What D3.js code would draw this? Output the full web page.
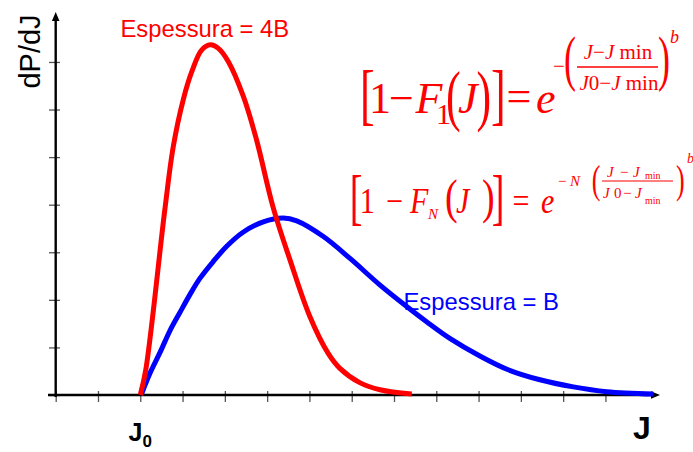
<!DOCTYPE html>
<html>
<head>
<meta charset="utf-8">
<script src="https://cdn.jsdelivr.net/npm/d3@7/dist/d3.min.js"></script>
<style>
  html, body { margin: 0; padding: 0; background: #ffffff; }
  svg { display: block; }
</style>
</head>
<body>
<svg id="chart" width="693" height="452"></svg>
<script>
// Distribution for thickness 4B (position along J, density dP/dJ)
const thickJ = [2.0, 2.13, 2.58, 2.78, 3.02, 3.22, 3.45, 3.66, 3.84, 4.08, 4.44, 4.75, 5.14, 5.54, 6.01, 6.44, 6.72, 7.19, 7.67, 8.42];
const thickP = [0, 0.53, 3.89, 5.22, 6.22, 6.80, 7.25, 7.36, 7.29, 7.01, 6.27, 5.36, 3.95, 2.84, 1.65, 0.88, 0.56, 0.26, 0.11, 0.02];

// Distribution for thickness B
const thinJ = [2.02, 2.23, 2.47, 2.70, 2.94, 3.18, 3.41, 3.72, 4.05, 4.43, 4.91, 5.38, 5.70, 6.33, 6.96, 7.67, 8.30, 8.77, 9.32, 10.03, 10.70, 11.45, 12.24, 13.03, 14.13];
const thinP = [0, 0.46, 0.90, 1.35, 1.74, 2.12, 2.45, 2.80, 3.13, 3.42, 3.64, 3.72, 3.66, 3.33, 2.87, 2.31, 1.86, 1.54, 1.19, 0.82, 0.53, 0.32, 0.17, 0.07, 0.02];

// Axis ticks and labels
const xTicks = d3.range(0, 14);
const yTicks = d3.range(0, 8);
const xLabelPos = [2, 13.86];
const xLabelMain = ["J", "J"];
const xLabelSub = ["0", ""];
const xLabelSize = [25, 32];
const yTitle = "dP/dJ";
const seriesNames = ["Espessura = 4B", "Espessura = B"];

const RED = "#ff0000", BLUE = "#0000ff";
const svg = d3.select("#chart");

const x = d3.scaleLinear().domain([0, 14.29]).range([55.7, 660]);
const y = d3.scaleLinear().domain([0, 8.05]).range([395, 12]);

// tick marks
svg.append("g")
  .attr("transform", "translate(0,391)")
  .call(d3.axisBottom(x).tickValues(xTicks).tickSize(11).tickFormat(""))
  .call(g => g.select(".domain").remove())
  .call(g => g.selectAll("line").attr("stroke", "#555").attr("stroke-width", 1.3));

svg.append("g")
  .attr("transform", "translate(60,0)")
  .call(d3.axisLeft(y).tickValues(yTicks).tickSize(11).tickFormat(""))
  .call(g => g.select(".domain").remove())
  .call(g => g.selectAll("line").attr("stroke", "#555").attr("stroke-width", 1.3));

// axis lines with arrowheads
const x0 = x(0), y0 = y(0);
const xEnd = x(14.29), yEnd = y(8.05);
svg.append("line").attr("x1", 48).attr("x2", xEnd - 6).attr("y1", y0).attr("y2", y0)
  .attr("stroke", "#000").attr("stroke-width", 2.4);
svg.append("path").attr("d", `M${xEnd},${y0} L${xEnd - 9},${y0 - 3.8} L${xEnd - 9},${y0 + 3.8} Z`).attr("fill", "#000");
svg.append("line").attr("x1", x0).attr("x2", x0).attr("y1", y0 + 2).attr("y2", yEnd + 6)
  .attr("stroke", "#000").attr("stroke-width", 2.4);
svg.append("path").attr("d", `M${x0},${yEnd} L${x0 - 3.8},${yEnd + 9} L${x0 + 3.8},${yEnd + 9} Z`).attr("fill", "#000");

// curves
const line = d3.line().x(d => x(d[0])).y(d => y(d[1])).curve(d3.curveCatmullRom.alpha(0.5));
svg.append("path").datum(d3.zip(thinJ, thinP)).attr("d", line)
  .attr("fill", "none").attr("stroke", BLUE).attr("stroke-width", 5).attr("stroke-linejoin", "round");
svg.append("path").datum(d3.zip(thickJ, thickP)).attr("d", line)
  .attr("fill", "none").attr("stroke", RED).attr("stroke-width", 5).attr("stroke-linejoin", "round");

// axis labels
const sans = "'Liberation Sans', Arial, Helvetica, sans-serif";
xLabelPos.forEach((p, i) => {
  const t = svg.append("text").attr("x", x(p)).attr("y", i === 0 ? 441 : 439)
    .attr("text-anchor", "middle").attr("font-family", sans).attr("font-weight", "bold")
    .attr("font-size", xLabelSize[i]).attr("fill", "#000");
  t.append("tspan").text(xLabelMain[i]);
  if (xLabelSub[i]) t.append("tspan").attr("dy", 6).attr("font-size", 17).text(xLabelSub[i]);
});
svg.append("text").attr("transform", "translate(40,51.5) rotate(-90)")
  .attr("text-anchor", "middle").attr("font-family", sans).attr("font-size", 29)
  .attr("fill", "#000").text(yTitle);

// series labels
svg.append("text").attr("x", 120.5).attr("y", 36.7).attr("font-family", sans)
  .attr("font-size", 23.8).attr("fill", RED).text(seriesNames[0]);
svg.append("text").attr("x", 403.5).attr("y", 310).attr("font-family", sans)
  .attr("font-size", 23.8).attr("fill", BLUE).text(seriesNames[1]);

// formulas
const serif = "'Liberation Serif', 'Times New Roman', Times, serif";
function glyph(str, gx, gy, size, opt = {}) {
  const sx = opt.sx || 1, sy = opt.sy || 1;
  return svg.append("text")
    .attr("transform", `translate(${gx},${gy}) scale(${sx},${sy})`)
    .attr("font-family", serif).attr("font-size", size)
    .attr("font-style", opt.italic ? "italic" : "normal")
    .attr("text-anchor", opt.anchor || "start")
    .attr("fill", RED).text(str);
}
function run(parts, gx, gy, size, anchor) {
  const t = svg.append("text").attr("x", gx).attr("y", gy)
    .attr("font-family", serif).attr("font-size", size)
    .attr("text-anchor", anchor || "start").attr("fill", RED);
  parts.forEach(p => {
    const s = t.append("tspan").text(p.t).attr("font-style", p.i ? "italic" : "normal");
    if (p.s) s.attr("font-size", p.s);
  });
  return t;
}

// [1 − F1(J)] = e^{−((J − Jmin)/(J0 − Jmin))^b}
glyph("[", 360, 116.5, 44, { sy: 1.53 });
glyph("1", 369, 113, 44);
glyph("\u2212", 389, 113, 44);
glyph("F", 415.5, 113, 44, { italic: true });
glyph("1", 436, 124, 30);
glyph("(", 446, 118, 44, { sy: 1.545 });
glyph("J", 458, 113, 44, { italic: true });
glyph(")", 476.5, 118, 44, { sy: 1.545 });
glyph("]", 491, 116.5, 44, { sy: 1.53 });
glyph("=", 506.5, 111, 44);
glyph("e", 536, 113, 44, { italic: true });
glyph("\u2212", 553, 73, 21);
glyph("(", 564, 79, 36, { sy: 1.69 });
run([{ t: "J", i: true }, { t: "\u2212" }, { t: "J", i: true }, { t: " min" }], 618, 59, 21, "middle");
svg.append("line").attr("x1", 577).attr("x2", 658).attr("y1", 67).attr("y2", 67)
  .attr("stroke", RED).attr("stroke-width", 1.4);
run([{ t: "J", i: true }, { t: "0" }, { t: "\u2212" }, { t: "J", i: true }, { t: " min" }], 619, 90, 21, "middle");
glyph(")", 658, 79, 36, { sy: 1.69 });
glyph("b", 670, 43, 18, { italic: true });

// [1 − FN(J)] = e^{−N((J − Jmin)/(J0 − Jmin))^b}
glyph("[", 349.7, 217.5, 38, { sy: 1.6 });
glyph("1", 359.7, 213, 30, { sy: 1.2 });
glyph("\u2212", 386, 213, 30, { sy: 1.2 });
glyph("F", 410, 213, 30, { italic: true, sy: 1.2 });
glyph("N", 428, 219, 15, { italic: true });
glyph("(", 445, 213, 38, { sy: 1.3 });
glyph("J", 456, 213, 30, { italic: true, sy: 1.2 });
glyph(")", 482, 213, 38, { sy: 1.3 });
glyph("]", 491.7, 217.5, 38, { sy: 1.6 });
glyph("=", 512.5, 213, 30, { sy: 1.2 });
glyph("e", 541, 213, 30, { italic: true, sy: 1.2 });
glyph("\u2212", 558, 186, 15);
glyph("N", 570, 186, 15, { italic: true });
glyph("(", 591.8, 192.7, 26, { sy: 1.58 });
glyph("J", 607, 177, 15, { italic: true });
glyph("\u2212", 620, 177, 15);
glyph("J", 633, 177, 15, { italic: true });
glyph("min", 645, 179, 10);
svg.append("line").attr("x1", 602).attr("x2", 673).attr("y1", 181).attr("y2", 181)
  .attr("stroke", RED).attr("stroke-width", 1);
glyph("J", 603, 198, 15, { italic: true });
glyph("0", 614, 198, 15);
glyph("\u2212", 623, 198, 15);
glyph("J", 635, 198, 15, { italic: true });
glyph("min", 645, 204, 10);
glyph(")", 676, 192.7, 26, { sy: 1.58 });
glyph("b", 687, 163, 14, { italic: true });
</script>
</body>
</html>
